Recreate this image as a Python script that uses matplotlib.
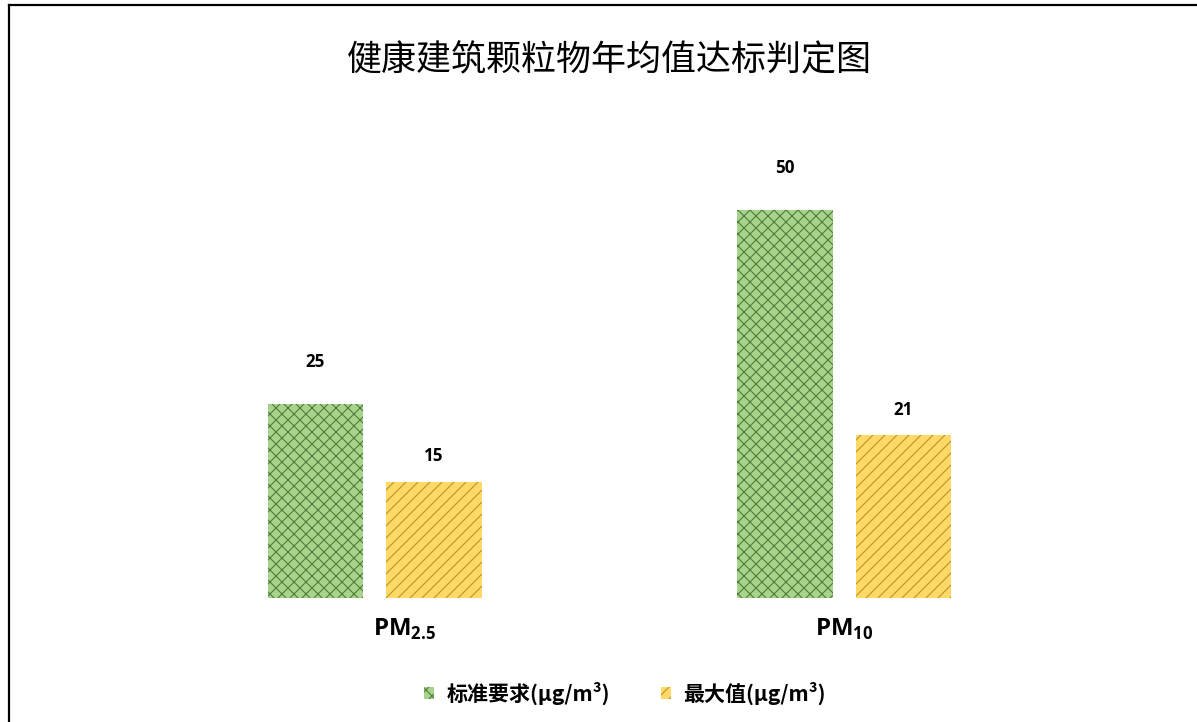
import numpy as np
import matplotlib
matplotlib.use("Agg")
import matplotlib.pyplot as plt
import matplotlib.transforms as mtransforms
from matplotlib.lines import Line2D

# Data
categories = [r"$\mathbf{PM}_{\mathbf{2.5}}$", r"$\mathbf{PM}_{\mathbf{10}}$"]
standard = [25, 50]
maximum = [15, 21]
series_names = ["标准要求(μg/m³)", "最大值(μg/m³)"]
title = "健康建筑颗粒物年均值达标判定图"

plt.rcParams["font.family"] = ["Noto Sans CJK SC", "DejaVu Sans"]
plt.rcParams["mathtext.fontset"] = "custom"
plt.rcParams["mathtext.rm"] = "Open Sans"
plt.rcParams["mathtext.bf"] = "Open Sans:bold"
plt.rcParams["hatch.linewidth"] = 1.1

# dpi 72 -> 1 pt == 1 px
fig = plt.figure(figsize=(1197 / 72, 722 / 72), dpi=72)
ax = fig.add_axes([140 / 1197, 1 - 598 / 722, 939 / 1197, 466 / 722])

x = np.arange(len(categories))
w = 0.204
off = 0.126
b1 = ax.bar(x - off, standard, w, color="#a6d48a", edgecolor="#4f7a3a",
            hatch="xx", linewidth=0, label=series_names[0])
b2 = ax.bar(x + off, maximum, w, color="#ffd966", edgecolor="#b8912a",
            hatch="//", linewidth=0, label=series_names[1])

for rect, v in zip(b1, standard):
    ax.annotate(str(v), (rect.get_x() + rect.get_width() / 2, v),
                xytext=(0, 42), textcoords="offset points", ha="center",
                va="center", fontsize=17, fontweight="bold", family="Open Sans")
for rect, v in zip(b2, maximum):
    ax.annotate(str(v), (rect.get_x() + rect.get_width() / 2, v),
                xytext=(0, 25), textcoords="offset points", ha="center",
                va="center", fontsize=17, fontweight="bold", family="Open Sans")

ax.set_xlim(-0.5, 1.5)
ax.set_ylim(0, 60)
ax.set_xticks(x)
ax.set_xticklabels(categories, fontsize=24)
ax.tick_params(axis="x", length=0, pad=18)
ax.set_yticks([])
for s in ax.spines.values():
    s.set_visible(False)
# the PM2.5 label sits a little right of its group in the original
lab0 = ax.get_xticklabels()[0]
lab0.set_transform(lab0.get_transform() +
                   mtransforms.ScaledTranslation(30 / 72, 0, fig.dpi_scale_trans))

fig.text(609 / 1197, 1 - 60 / 722, title, ha="center", va="center", fontsize=35)

leg = fig.legend(loc="center", bbox_to_anchor=(0.522, 1 - 693 / 722), ncol=2,
                 frameon=False, handlelength=0.5, handleheight=0.5,
                 handletextpad=0.6, columnspacing=2.4,
                 prop={"size": 21, "weight": "bold"})

# frame lines at left and top
fig.add_artist(Line2D([8.5 / 1197, 8.5 / 1197], [0, 1 - 4.5 / 722],
                      color="black", linewidth=2.2))
fig.add_artist(Line2D([8.5 / 1197, 1], [1 - 4.5 / 722, 1 - 4.5 / 722],
                      color="black", linewidth=2.2))

fig.savefig("out.png", dpi=72, facecolor="white")
